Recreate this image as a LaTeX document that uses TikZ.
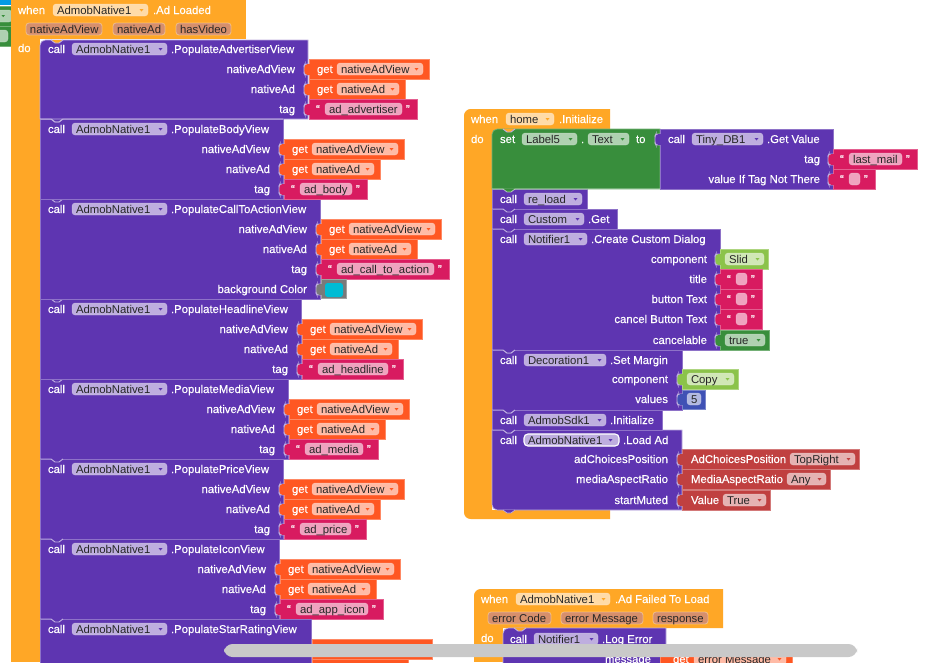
\documentclass[tikz,border=0pt]{standalone}
\usepackage{fontspec}
\setmainfont{Liberation Sans}
\newfontface\wfont{Liberation Sans}[FakeBold=0.25]
\definecolor{evO}{HTML}{FFA726}
\definecolor{prp}{HTML}{5E35B1}
\definecolor{prpL}{HTML}{BEAEDF}
\definecolor{gtO}{HTML}{FF5722}
\definecolor{pnk}{HTML}{D81B60}
\definecolor{grn}{HTML}{388E3C}
\definecolor{lgn}{HTML}{8BC34A}
\definecolor{blu}{HTML}{3F51B5}
\definecolor{rd}{HTML}{C04040}
\definecolor{gry}{HTML}{7A7A7A}
\definecolor{param}{HTML}{D68F6C}
\definecolor{sky}{HTML}{039BE5}
\definecolor{swatch}{HTML}{00BCD4}
\newcount\nn
\tikzset{
  txt/.style={inner sep=0pt,outer sep=0pt,font=\fontsize{8.5}{9}\selectfont},
  wht/.style={inner sep=0pt,outer sep=0pt,font=\wfont\fontsize{8.5}{9}\selectfont,text=white,anchor=base west},
  whr/.style={inner sep=0pt,outer sep=0pt,font=\wfont\fontsize{8.5}{9}\selectfont,text=white,anchor=base east},
  blk/.style={txt,text=black!85,anchor=base west},
  fieldbox/.style={fill=white,fill opacity=0.6,rounded corners=2.2pt,draw=white,draw opacity=0.2,line width=0.5pt}
}
% text helpers
\newcommand\wlt[3]{\global\advance\nn by 1 \node[wht] (n\the\nn) at (#1,{#2+4}) {#3};}
\newcommand\wrt[3]{\global\advance\nn by 1 \node[whr] (n\the\nn) at (#1,{#2+4}) {#3};}
\newcommand\blt[3]{\global\advance\nn by 1 \node[blk] (n\the\nn) at (#1,{#2+4}) {#3};}
% plain block: x0 y0 x1 y1 colour
\newcommand\blockrect[5]{\fill[#5,draw=#5!70!white,line width=0.5pt] (#1,#2) rectangle (#3,#4);}
% field with arrow: x0 x1 yc text arrowcolor
\newcommand\fld[5]{%
  \path[fieldbox] (#1,{#3-6}) rectangle (#2,{#3+6});
  \blt{#1+4}{#3}{#4}
  \fill[#5] ({#2-8.5},{#3-1}) -- ({#2-4.5},{#3-1}) -- ({#2-6.5},{#3+1.5}) -- cycle;}
% field no arrow
\newcommand\fldn[4]{%
  \path[fieldbox] (#1,{#3-6}) rectangle (#2,{#3+6});
  \blt{#1+4}{#3}{#4}}
% param chip
\newcommand\pchip[4]{%
  \fill[param,draw=white,draw opacity=.35,line width=.6pt,rounded corners=2.2pt] (#1,{#3-6}) rectangle (#2,{#3+6});
  \blt{#1+4}{#3}{#4}}
% input socket tab: x yc colour
\newcommand\tabb[3]{%
  \draw[prpL,line width=0.7pt,fill=#3,rounded corners=1pt] (#1,{#2-5}) -- ({#1-4},{#2-5}) -- ({#1-5},{#2-3}) -- ({#1-5},{#2+4}) -- ({#1-4},{#2+6}) -- (#1,{#2+6});
  \fill[#3] ({#1-2},{#2-5}) rectangle ({#1+0.5},{#2+6});}
% statement notch: x y
\newcommand\notch[2]{%
  \draw[prpL,line width=0.7pt,fill=prp] ({#1},#2) -- ({#1+11},#2) -- ({#1+15},{#2+3}) -- ({#1+19},{#2+3}) -- ({#1+23},#2);}
% getters: x yc
\newcommand\getA[2]{%
  \blockrect{#1}{#2-10}{#1+120}{#2+10}{gtO}
  \tabb{#1}{#2}{gtO}
  \wlt{#1+8}{#2}{get}
  \fld{#1+28}{#1+114}{#2}{nativeAdView}{gtO}}
\newcommand\getB[2]{%
  \blockrect{#1}{#2-10}{#1+96}{#2+10}{gtO}
  \tabb{#1}{#2}{gtO}
  \wlt{#1+8}{#2}{get}
  \fld{#1+28}{#1+90}{#2}{nativeAd}{gtO}}
% string: x yc text fieldwidth
\newcommand\strb[4]{%
  \blockrect{#1}{#2-10}{#1+#4+31}{#2+10}{pnk}
  \tabb{#1}{#2}{pnk}
  \wlt{#1+7}{#2}{“}
  \fldn{#1+16}{#1+16+#4}{#2}{#3}
  \wlt{#1+#4+20}{#2}{”}}
% full populate block: y0 x1 method stringtext stringw
\newcommand\popb[5]{%
  \blockrect{40}{#1}{#2}{#1+80}{prp}
  \notch{40}{#1}
  \wlt{48}{#1+10}{call}
  \fld{72}{167}{#1+10}{AdmobNative1}{prp}
  \wlt{171}{#1+10}{#3}
  \wrt{#2-13}{#1+30}{nativeAdView}
  \wrt{#2-13}{#1+50}{nativeAd}
  \wrt{#2-13}{#1+70}{tag}
  \getA{#2+1}{#1+30}
  \getB{#2+1}{#1+50}
  \strb{#2+1}{#1+70}{#4}{#5}}
\begin{document}
\begin{tikzpicture}[x=0.75pt,y=-0.75pt]
\useasboundingbox (0,0) rectangle (936,662);
\clip (0,0) rectangle (936,662);
\fill[white] (0,0) rectangle (936,662);

% ---------- fragments top-left
\fill[sky] (0,-2) rectangle (68,5);
\fill[blu] (69,-2) rectangle (91,5);
\path[fieldbox] (75,-6) rectangle (87,3);
\blockrect{-4}{6}{16}{26}{grn}
\blockrect{-4}{26}{16}{46}{grn}
\path[fieldbox] (-6,10) rectangle (12,22);
\path[fieldbox] (-6,30) rectangle (8,42);
\fill[grn] (1.5,15) -- (5,15) -- (3.2,17.2) -- cycle;

% ---------- left event block
\fill[evO] (11,-10) rectangle (246,39);
\fill[evO] (11,20) rectangle (40,662);
\wlt{18}{10}{when}
\fld{53}{148}{10}{AdmobNative1}{evO}
\wlt{153}{10}{.Ad Loaded}
\pchip{26}{102}{29}{nativeAdView}
\pchip{113}{165}{29}{nativeAd}
\pchip{176}{231}{29}{hasVideo}
\wlt{18}{48}{do}

\popb{379}{288}{.PopulateMediaView}{ad\_media}{58}
\popb{459}{283}{.PopulatePriceView}{ad\_price}{51}
\popb{539}{279}{.PopulateIconView}{ad\_app\_icon}{72}
% last, cut off
\blockrect{40}{619}{311}{700}{prp}
\notch{40}{619}
\wlt{48}{629}{call}
\fld{72}{167}{629}{AdmobNative1}{prp}
\wlt{171}{629}{.PopulateStarRatingView}
\blockrect{312}{639}{432}{659}{gtO}
\blockrect{312}{659}{408}{680}{gtO}

\popb{299}{301}{.PopulateHeadlineView}{ad\_headline}{70}
% call to action (taller)
\blockrect{40}{199}{320}{299}{prp}
\notch{40}{199}
\wlt{48}{209}{call}
\fld{72}{167}{209}{AdmobNative1}{prp}
\wlt{171}{209}{.PopulateCallToActionView}
\wrt{307}{229}{nativeAdView}
\wrt{307}{249}{nativeAd}
\wrt{307}{269}{tag}
\wrt{307}{289}{background Color}
\getA{321}{229}
\getB{321}{249}
\strb{321}{269}{ad\_call\_to\_action}{97}
\blockrect{321}{279}{346}{298}{gry}
\tabb{321}{289}{gry}
\fill[swatch,rounded corners=2pt] (325,283) rectangle (343,297);
\popb{119}{283}{.PopulateBodyView}{ad\_body}{52}
% first
\fill[prp,draw=prpL,line width=.5pt] (40,119) [rounded corners=4pt] -- (40,40) [sharp corners] -- (308,40) -- (308,119) -- cycle;
\draw[prpL,line width=0.7pt,fill=evO] (51,40) -- (55,43) -- (59,43) -- (63,40);
\wlt{48}{49}{call}
\fld{72}{167}{49}{AdmobNative1}{prp}
\wlt{171}{49}{.PopulateAdvertiserView}
\wrt{295}{69}{nativeAdView}
\wrt{295}{89}{nativeAd}
\wrt{295}{109}{tag}
\getA{309}{69}
\getB{309}{89}
\strb{309}{109}{ad\_advertiser}{77}
\draw[prpL,line width=0.7pt] (40,119) -- (51,119) -- (55,122) -- (59,122) -- (63,119) -- (283,119);

% ---------- home.Initialize
\fill[evO] (610,129) -- (610,109) [rounded corners=5pt] -- (464,109) [sharp corners] -- (464,135) -- (610,135) -- cycle;
\fill[evO] (464,120) rectangle (492,510);
\fill[evO] (610,510) -- (610,519) [rounded corners=5pt] -- (464,519) [sharp corners] -- (464,495) -- (492,495) -- (492,510) -- cycle;
\wlt{471}{119}{when}
\fld{506}{554}{119}{home}{evO}
\wlt{559}{119}{.Initialize}
\wlt{471}{139}{do}

% admob native load
\fill[prp,draw=prpL,line width=.5pt] (492,430) -- (682,430) -- (682,510) [rounded corners=4pt] -- (492,510) [sharp corners] -- cycle;
\notch{492}{430}
\wlt{500}{440}{call}
\fldn{524}{619}{440}{AdmobNative1}
\draw[white,line width=.8pt,rounded corners=3pt] (524,434) rectangle (619,446);
\fill[prp] (608.5,439) -- (612.5,439) -- (610.5,441.5) -- cycle;
\wlt{623}{440}{.Load Ad}
\wrt{668}{459}{adChoicesPosition}
\wrt{668}{479}{mediaAspectRatio}
\wrt{668}{500}{startMuted}
\blockrect{682}{449}{859}{469}{rd}
\tabb{682}{459}{rd}
\wlt{691}{459}{AdChoicesPosition}
\fld{790}{855}{459}{TopRight}{rd}
\blockrect{682}{469}{830}{489}{rd}
\tabb{682}{479}{rd}
\wlt{691}{479}{MediaAspectRatio}
\fld{787}{826}{479}{Any}{rd}
\blockrect{682}{490}{770}{510}{rd}
\tabb{682}{500}{rd}
\wlt{691}{500}{Value}
\fld{723}{766}{500}{True}{rd}
\fill[prp] (503,510) -- (507,513) -- (511,513) -- (515,510) -- cycle;
\draw[prpL,line width=.5pt] (503,510) -- (507,513) -- (511,513) -- (515,510);
% sdk init
\blockrect{492}{410}{662}{430}{prp}
\notch{492}{410}
\wlt{500}{420}{call}
\fld{524}{606}{420}{AdmobSdk1}{prp}
\wlt{610}{420}{.Initialize}
\notch{492}{430}
% decoration
\blockrect{492}{350}{682}{410}{prp}
\notch{492}{350}
\wlt{500}{360}{call}
\fld{524}{606}{360}{Decoration1}{prp}
\wlt{610}{360}{.Set Margin}
\wrt{668}{379}{component}
\wrt{668}{399}{values}
\blockrect{682}{369}{738}{389}{lgn}
\tabb{682}{379}{lgn}
\fld{687}{734}{379}{Copy}{lgn}
\blockrect{682}{390}{705}{409}{blu}
\tabb{682}{399}{blu}
\fldn{687}{701}{399}{5}
\notch{492}{410}
% notifier
\blockrect{492}{229}{720}{350}{prp}
\wlt{500}{239}{call}
\fld{524}{587}{239}{Notifier1}{prp}
\wlt{591}{239}{.Create Custom Dialog}
\wrt{707}{259}{component}
\wrt{707}{279}{title}
\wrt{707}{299}{button Text}
\wrt{707}{319}{cancel Button Text}
\wrt{707}{340}{cancelable}
\blockrect{720}{249}{768}{269}{lgn}
\tabb{720}{259}{lgn}
\fld{725}{764}{259}{Slid}{lgn}
\strb{720}{279}{}{11}
\strb{720}{299}{}{11}
\strb{720}{319}{}{11}
\blockrect{720}{330}{769}{350}{grn}
\tabb{720}{340}{grn}
\fld{725}{765}{340}{true}{grn}
\notch{492}{350}
% custom & re_load
\blockrect{492}{209}{617}{229}{prp}
\wlt{500}{219}{call}
\fld{524}{584}{219}{Custom}{prp}
\wlt{588}{219}{.Get}
\notch{492}{229}
\blockrect{492}{189}{587}{209}{prp}
\wlt{500}{199}{call}
\fld{524}{582}{199}{re\_load}{prp}
\notch{492}{209}
% set block
\fill[grn,draw=grn!70!white,line width=.5pt] (492,189) [rounded corners=4pt] -- (492,129) [sharp corners] -- (660,129) -- (660,189) -- cycle;
\draw[prpL,line width=0.7pt,fill=evO] (503,129) -- (507,132) -- (511,132) -- (515,129);
\wlt{500}{139}{set}
\fld{522}{577}{139}{Label5}{grn}
\wlt{581}{139}{.}
\fld{588}{629}{139}{Text}{grn}
\wlt{636}{139}{to}
\fill[grn] (503,189) -- (507,192) -- (511,192) -- (515,189) -- cycle;
\draw[white,opacity=.6,line width=.6pt] (492,189) -- (503,189) -- (507,192) -- (511,192) -- (515,189) -- (660,189);
\blockrect{660}{129}{833}{189}{prp}
\tabb{660}{139}{prp}
\wlt{668}{139}{call}
\fld{692}{763}{139}{Tiny\_DB1}{prp}
\wlt{767}{139}{.Get Value}
\wrt{820}{159}{tag}
\wrt{820}{179}{value If Tag Not There}
\strb{833}{159}{last\_mail}{53}
\strb{833}{179}{}{11}

% ---------- failed to load
\fill[evO] (723,600) -- (723,589) [rounded corners=5pt] -- (474,589) [sharp corners] -- (474,628) -- (723,628) -- cycle;
\fill[evO] (474,600) rectangle (503,662);
\wlt{481}{599}{when}
\fld{516}{610}{599}{AdmobNative1}{evO}
\wlt{615}{599}{.Ad Failed To Load}
\pchip{488}{551}{618}{error Code}
\pchip{561}{643}{618}{error Message}
\pchip{653}{708}{618}{response}
\wlt{481}{638}{do}
\fill[prp,draw=prpL,line width=.5pt] (503,680) [rounded corners=4pt] -- (503,628) [sharp corners] -- (666,628) -- (666,680) -- cycle;
\draw[prpL,line width=0.7pt,fill=evO] (514,628) -- (518,631) -- (522,631) -- (526,628);
\wlt{510}{639}{call}
\fld{534}{598}{639}{Notifier1}{prp}
\wlt{602}{639}{.Log Error}
\wrt{651}{659}{message}
\blockrect{660}{649}{792}{670}{gtO}
\wlt{673}{659}{get}
\fld{694}{786}{659}{error Message}{gtO}

% ---------- scrollbar
\fill[black!21,rounded corners=6.4pt] (224,644) rectangle (857,657);
\end{tikzpicture}
\end{document}
